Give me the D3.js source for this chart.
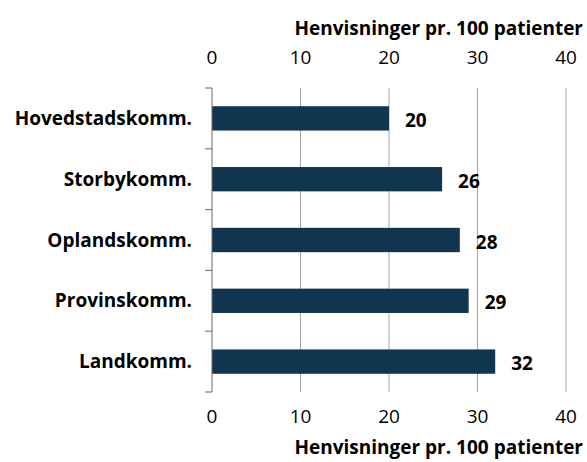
<!DOCTYPE html>
<html>
<head>
<meta charset="utf-8">
<script src="https://cdn.jsdelivr.net/npm/d3@7"></script>
<style>
  html, body { margin: 0; padding: 0; background: #fff; }
  text { font-family: "Open Sans", "Noto Sans", sans-serif; }
</style>
</head>
<body>
<svg id="chart" width="587" height="462"></svg>
<script>
const categories = ["Hovedstadskomm.", "Storbykomm.", "Oplandskomm.", "Provinskomm.", "Landkomm."];
const values = [20, 26, 28, 29, 32];
const tickValues = [0, 10, 20, 30, 40];
const axisTitle = "Henvisninger pr. 100 patienter";

const svg = d3.select("#chart");
const margin = { left: 212, right: 21, top: 88, bottom: 70 };
const W = 587, H = 462;

const x = d3.scaleLinear().domain([0, 40]).range([margin.left, W - margin.right]);
const y = d3.scaleBand().domain(categories).range([margin.top, H - margin.bottom]).paddingInner(0.6).paddingOuter(0.3);

// vertical gridlines
svg.append("g").selectAll("line")
  .data(tickValues.filter(d => d > 0))
  .join("line")
  .attr("x1", d => x(d)).attr("x2", d => x(d))
  .attr("y1", margin.top).attr("y2", H - margin.bottom)
  .attr("stroke", "#a6a6a6").attr("stroke-width", 1);

// bars
svg.append("g").selectAll("rect")
  .data(categories)
  .join("rect")
  .attr("x", x(0))
  .attr("y", d => y(d))
  .attr("width", (d, i) => x(values[i]) - x(0))
  .attr("height", y.bandwidth())
  .attr("fill", "#12354f");

// value labels
svg.append("g").selectAll("text")
  .data(categories)
  .join("text")
  .attr("x", (d, i) => x(values[i]) + 16)
  .attr("y", d => y(d) + y.bandwidth() / 2 + 2)
  .attr("dy", "0.35em")
  .attr("font-size", 19)
  .attr("font-weight", "bold")
  .attr("fill", "#000")
  .text((d, i) => values[i]);

// category axis with ticks at band boundaries
const bounds = d3.range(categories.length + 1).map(i => margin.top + i * (H - margin.top - margin.bottom) / categories.length);
const left = svg.append("g");
left.append("line")
  .attr("x1", x(0)).attr("x2", x(0))
  .attr("y1", margin.top).attr("y2", H - margin.bottom)
  .attr("stroke", "#666").attr("stroke-width", 1);
left.selectAll("line.tick")
  .data(bounds)
  .join("line").attr("class", "tick")
  .attr("x1", x(0) - 7).attr("x2", x(0))
  .attr("y1", d => d).attr("y2", d => d)
  .attr("stroke", "#666").attr("stroke-width", 1);
left.selectAll("text")
  .data(categories)
  .join("text")
  .attr("x", x(0) - 20)
  .attr("y", d => y(d) + y.bandwidth() / 2)
  .attr("dy", "0.35em")
  .attr("text-anchor", "end")
  .attr("font-size", 19)
  .attr("font-weight", "bold")
  .attr("fill", "#000")
  .text(d => d);

// top and bottom value axes
function valueAxis(yPos, titleY) {
  const g = svg.append("g");
  g.selectAll("text.tk")
    .data(tickValues)
    .join("text").attr("class", "tk")
    .attr("x", d => x(d))
    .attr("y", yPos)
    .attr("dy", "0.35em")
    .attr("text-anchor", "middle")
    .attr("font-size", 19)
    .attr("fill", "#000")
    .text(d => d);
  g.append("text")
    .attr("x", W - 4)
    .attr("y", titleY)
    .attr("dy", "0.35em")
    .attr("text-anchor", "end")
    .attr("font-size", 19)
    .attr("font-weight", "bold")
    .attr("fill", "#000")
    .text(axisTitle);
}
valueAxis(57, 28);
valueAxis(416, 447);
</script>
</body>
</html>
